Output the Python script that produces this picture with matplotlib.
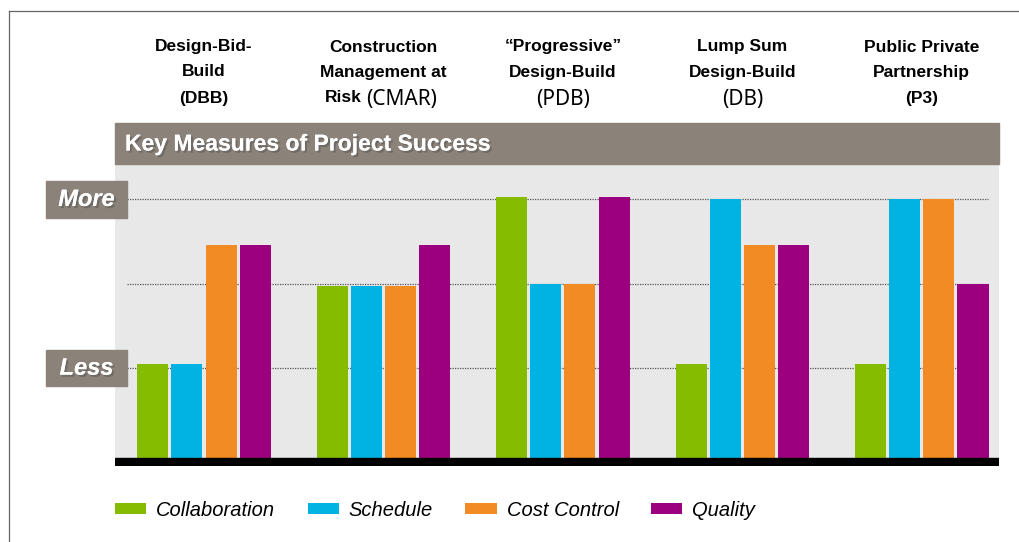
import matplotlib
matplotlib.use("Agg")
import matplotlib.pyplot as plt
import matplotlib.patheffects as pe
from matplotlib.patches import Rectangle
from matplotlib.lines import Line2D
from matplotlib.transforms import blended_transform_factory
import numpy as np

# dados (niveis: 1 = Less, 2 = meio, 3 = More)
metodos = ["DBB", "CMAR", "PDB", "DB", "P3"]
series = ["Collaboration", "Schedule", "Cost Control", "Quality"]
collaboration = [1.12, 2.04, 3.10, 1.12, 1.12]
schedule = [1.12, 2.04, 2.07, 3.07, 3.07]
cost_control = [2.53, 2.04, 2.07, 2.53, 3.07]
quality = [2.53, 2.53, 3.10, 2.53, 2.07]
niveis = [1.07, 2.07, 3.07]
rotulos_niveis = {1.07: "Less", 3.07: "More"}

titulos = [
    [("Design-Bid-", "bold"), ("Build", "bold"), ("(DBB)", "bold")],
    [("Construction", "bold"), ("Management at", "bold"), ("Risk|(CMAR)", "mix")],
    [("\u201cProgressive\u201d", "bold"), ("Design-Build", "bold"), ("(PDB)", "normal")],
    [("Lump Sum", "bold"), ("Design-Build", "bold"), ("(DB)", "normal")],
    [("Public Private", "bold"), ("Partnership", "bold"), ("(P3)", "bold")],
]

cores = ["#86bc00", "#00b3e3", "#f28b24", "#9c007e"]
marrom = "#8b8279"
fonte = ["Liberation Sans", "DejaVu Sans"]

fig = plt.figure(figsize=(10.2, 5.42), dpi=100)
W, H = 1020, 542

def fx(px):
    return px / W

def fy(py):
    return 1 - py / H

# eixo principal (area cinza)
ax = fig.add_axes([fx(115), fy(466), fx(999) - fx(115), fy(164) - fy(466)])
ax.set_facecolor("#e8e8e8")
ax.set_xlim(-0.496, 4.43)
ax.set_ylim(-0.09, 3.49)
for s in ax.spines.values():
    s.set_visible(False)
ax.set_xticks([])
ax.set_yticks([])

x = np.arange(len(metodos))
larg = 0.173
passo = 0.19
valores = [collaboration, schedule, cost_control, quality]
for i, vals in enumerate(valores):
    ax.bar(x + (i - 1.5) * passo, vals, width=larg, color=cores[i],
           label=series[i], zorder=3)

# linhas pontilhadas
for n in niveis:
    ax.axhline(n, xmin=0.0136, xmax=0.9876, color="#555555", lw=0.9,
               ls=(0, (1, 1)), zorder=1)

# base preta
ax.axhspan(-0.09, 0, color="black", zorder=4)

sombra = [pe.withSimplePatchShadow(offset=(1.5, -1.5), alpha=0.45), pe.Normal()]

# faixa do titulo
fig.patches.append(Rectangle((fx(115), fy(164)), fx(999) - fx(115), fy(123) - fy(164),
                             transform=fig.transFigure, color=marrom, zorder=0))
fig.text(fx(125), fy(144), "Key Measures of Project Success", color="white",
         fontsize=16.5, fontweight="bold", family=fonte, va="center", ha="left",
         path_effects=sombra)

# caixas More / Less
tr = blended_transform_factory(fig.transFigure, ax.transData)
for n, txt in rotulos_niveis.items():
    ax.add_patch(Rectangle((fx(46), n - 0.215), fx(127) - fx(46), 0.43,
                           transform=tr, color=marrom, clip_on=False, zorder=5))
    ax.text(fx(86.5), n, txt, transform=tr, color="white", fontsize=17,
            fontweight="bold", fontstyle="italic", family=fonte,
            ha="center", va="center", path_effects=sombra, zorder=6)

# titulos das colunas
tr2 = blended_transform_factory(ax.transData, fig.transFigure)
linhas_y = [47, 72, 98]
for g, linhas in enumerate(titulos):
    for k, (txt, estilo) in enumerate(linhas):
        if estilo == "mix":
            a, b = txt.split("|")
            ax.annotate(a, (g, fy(linhas_y[k])), xycoords=tr2,
                        xytext=(-22, 0), textcoords="offset pixels",
                        ha="right", va="center", fontsize=12.5,
                        fontweight="bold", family=fonte, annotation_clip=False)
            ax.annotate(b, (g, fy(linhas_y[k] + 1)), xycoords=tr2,
                        xytext=(-17, 0), textcoords="offset pixels",
                        ha="left", va="center", fontsize=15,
                        family=["Noto Sans", "DejaVu Sans"], annotation_clip=False)
        elif estilo == "normal":
            ax.text(g, fy(linhas_y[k] + 1), txt, transform=tr2, ha="center",
                    va="center", fontsize=15, family=["Noto Sans", "DejaVu Sans"])
        else:
            ax.text(g, fy(linhas_y[k]), txt, transform=tr2, ha="center",
                    va="center", fontsize=12.5, fontweight="bold", family=fonte)

# legenda
fig.legend(loc="center left", bbox_to_anchor=(fx(115), fy(510)), ncol=4,
           frameon=False, borderpad=0, borderaxespad=0, handlelength=1.55,
           handleheight=0.5, handletextpad=0.5, columnspacing=1.6,
           prop={"family": fonte, "style": "italic", "size": 14.5})

# moldura
fig.lines.append(Line2D([fx(9), 1], [fy(11), fy(11)], transform=fig.transFigure,
                        color="#666666", lw=0.9))
fig.lines.append(Line2D([fx(9), fx(9)], [fy(11), 0], transform=fig.transFigure,
                        color="#666666", lw=0.9))

fig.savefig("out.png", dpi=100)
